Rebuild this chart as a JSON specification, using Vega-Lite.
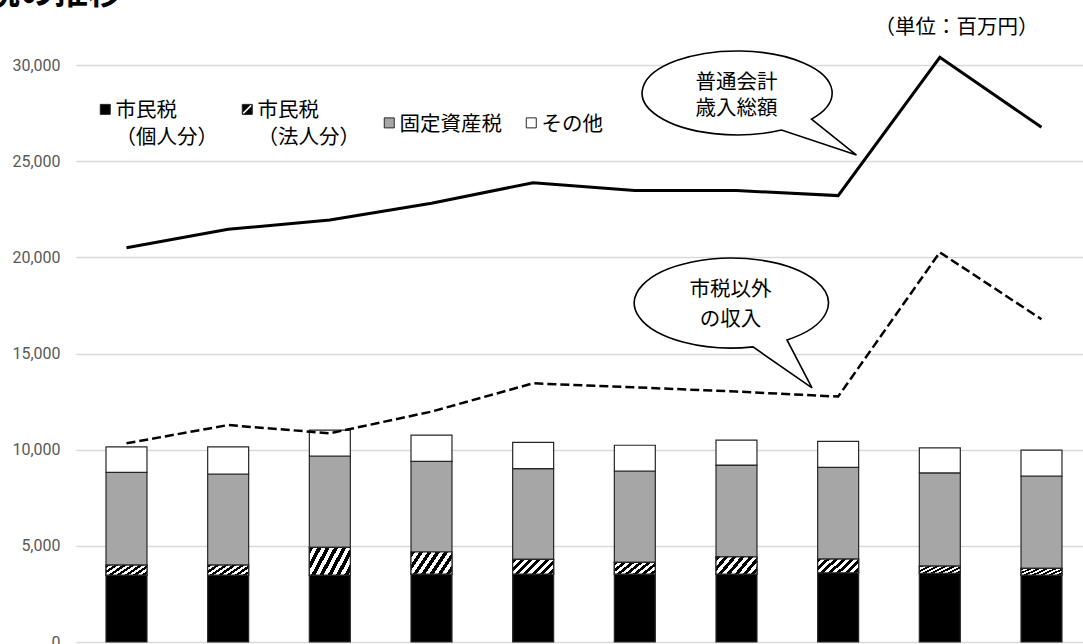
{
  "$schema": "https://vega.github.io/schema/vega-lite/v6.json",
  "width": 1007,
  "height": 577,
  "autosize": {"type": "none"},
  "padding": {"left": 76, "top": 65, "right": 0, "bottom": 2},
  "background": "white",
  "config": {"view": {"stroke": null}, "font": "Noto Sans CJK JP"},
  "title": {
    "text": "市税の推移",
    "anchor": "start",
    "frame": "group",
    "fontSize": 34,
    "fontWeight": "bold",
    "color": "#000000",
    "font": "Noto Sans CJK JP",
    "offset": 0,
    "dx": -124,
    "dy": -7
  },
  "datasets": {
    "tax": [
      {"年度": "第1年", "区分": "市民税（個人分）", "順": 1, "金額": 3480},
      {"年度": "第1年", "区分": "市民税（法人分）", "順": 2, "金額": 520},
      {"年度": "第1年", "区分": "固定資産税", "順": 3, "金額": 4820},
      {"年度": "第1年", "区分": "その他", "順": 4, "金額": 1330},
      {"年度": "第2年", "区分": "市民税（個人分）", "順": 1, "金額": 3480},
      {"年度": "第2年", "区分": "市民税（法人分）", "順": 2, "金額": 520},
      {"年度": "第2年", "区分": "固定資産税", "順": 3, "金額": 4735},
      {"年度": "第2年", "区分": "その他", "順": 4, "金額": 1415},
      {"年度": "第3年", "区分": "市民税（個人分）", "順": 1, "金額": 3480},
      {"年度": "第3年", "区分": "市民税（法人分）", "順": 2, "金額": 1440},
      {"年度": "第3年", "区分": "固定資産税", "順": 3, "金額": 4750},
      {"年度": "第3年", "区分": "その他", "順": 4, "金額": 1350},
      {"年度": "第4年", "区分": "市民税（個人分）", "順": 1, "金額": 3530},
      {"年度": "第4年", "区分": "市民税（法人分）", "順": 2, "金額": 1150},
      {"年度": "第4年", "区分": "固定資産税", "順": 3, "金額": 4710},
      {"年度": "第4年", "区分": "その他", "順": 4, "金額": 1370},
      {"年度": "第5年", "区分": "市民税（個人分）", "順": 1, "金額": 3530},
      {"年度": "第5年", "区分": "市民税（法人分）", "順": 2, "金額": 770},
      {"年度": "第5年", "区分": "固定資産税", "順": 3, "金額": 4710},
      {"年度": "第5年", "区分": "その他", "順": 4, "金額": 1370},
      {"年度": "第6年", "区分": "市民税（個人分）", "順": 1, "金額": 3530},
      {"年度": "第6年", "区分": "市民税（法人分）", "順": 2, "金額": 610},
      {"年度": "第6年", "区分": "固定資産税", "順": 3, "金額": 4750},
      {"年度": "第6年", "区分": "その他", "順": 4, "金額": 1340},
      {"年度": "第7年", "区分": "市民税（個人分）", "順": 1, "金額": 3530},
      {"年度": "第7年", "区分": "市民税（法人分）", "順": 2, "金額": 900},
      {"年度": "第7年", "区分": "固定資産税", "順": 3, "金額": 4770},
      {"年度": "第7年", "区分": "その他", "順": 4, "金額": 1300},
      {"年度": "第8年", "区分": "市民税（個人分）", "順": 1, "金額": 3600},
      {"年度": "第8年", "区分": "市民税（法人分）", "順": 2, "金額": 710},
      {"年度": "第8年", "区分": "固定資産税", "順": 3, "金額": 4770},
      {"年度": "第8年", "区分": "その他", "順": 4, "金額": 1350},
      {"年度": "第9年", "区分": "市民税（個人分）", "順": 1, "金額": 3570},
      {"年度": "第9年", "区分": "市民税（法人分）", "順": 2, "金額": 380},
      {"年度": "第9年", "区分": "固定資産税", "順": 3, "金額": 4840},
      {"年度": "第9年", "区分": "その他", "順": 4, "金額": 1300},
      {"年度": "第10年", "区分": "市民税（個人分）", "順": 1, "金額": 3480},
      {"年度": "第10年", "区分": "市民税（法人分）", "順": 2, "金額": 350},
      {"年度": "第10年", "区分": "固定資産税", "順": 3, "金額": 4800},
      {"年度": "第10年", "区分": "その他", "順": 4, "金額": 1350}
    ],
    "revenue": [
      {"年度": "第1年", "歳入総額": 20500, "市税以外": 10330},
      {"年度": "第2年", "歳入総額": 21460, "市税以外": 11280},
      {"年度": "第3年", "歳入総額": 21940, "市税以外": 10850},
      {"年度": "第4年", "歳入総額": 22810, "市税以外": 11980},
      {"年度": "第5年", "歳入総額": 23880, "市税以外": 13450},
      {"年度": "第6年", "歳入総額": 23470, "市税以外": 13240},
      {"年度": "第7年", "歳入総額": 23470, "市税以外": 13020},
      {"年度": "第8年", "歳入総額": 23210, "市税以外": 12760},
      {"年度": "第9年", "歳入総額": 30400, "市税以外": 20260},
      {"年度": "第10年", "歳入総額": 26760, "市税以外": 16780}
    ]
  },
  "encoding": {
    "x": {
      "field": "年度",
      "type": "nominal",
      "axis": null,
      "scale": {
        "domain": ["第1年", "第2年", "第3年", "第4年", "第5年", "第6年", "第7年", "第8年", "第9年", "第10年"],
        "paddingInner": 0.597,
        "paddingOuter": 0.251,
        "align": 0.588,
        "round": false
      }
    }
  },
  "layer": [
    {
      "data": {"name": "tax"},
      "transform": [
        {"stack": "金額", "groupby": ["年度"], "sort": [{"field": "順", "order": "ascending"}], "as": ["下端", "上端"]}
      ],
      "layer": [
        {
          "mark": {"type": "point", "filled": true, "size": 100, "yOffset": -6, "stroke": "#262626", "strokeWidth": 1, "opacity": 1},
          "encoding": {
            "y": {
              "field": "下端",
              "type": "quantitative",
              "title": null,
              "scale": {"domain": [0, 30000], "nice": false, "zero": true},
              "axis": {
                "title": null,
                "values": [0, 5000, 10000, 15000, 20000, 25000, 30000],
                "format": ",",
                "labelExpr": "format(datum.value, ',')",
                "labelColor": "#595959",
                "labelFontSize": 16,
                "labelFont": "Roboto",
                "labelPadding": 16,
                "domain": false,
                "ticks": false,
                "grid": true,
                "gridColor": "#d9d9d9",
                "gridWidth": 1.3
              }
            },
            "fill": {
              "field": "区分",
              "type": "nominal",
              "scale": {
                "domain": ["市民税（個人分）", "市民税（法人分）", "固定資産税", "その他"],
                "range": ["#000000", "#000000", "#a6a6a6", "#ffffff"]
              },
              "legend": {
                "title": null,
                "orient": "none",
                "legendX": 19,
                "legendY": 34,
                "direction": "horizontal",
                "columns": 4,
                "gridAlign": "all",
                "padding": 0,
                "symbolSize": 100,
                "symbolStrokeColor": "#262626",
                "symbolStrokeWidth": 1,
                "symbolOpacity": 1,
                "labelFont": "Noto Sans CJK JP",
                "labelFontSize": 20.5,
                "labelColor": "#000000",
                "labelOffset": 0,
                "labelLimit": 0,
                "labelBaseline": "top",
                "columnPadding": 19,
                "labelExpr": "datum.label == '市民税（個人分）' ? ['市民税', '（個人分）'] : datum.label == '市民税（法人分）' ? ['市民税', '（法人分）'] : datum.label",
                "encode": {
                  "labels": {"update": {"lineHeight": {"value": 27}, "dy": {"value": -8}}}
                }
              }
            },
            "shape": {
              "field": "区分",
              "type": "nominal",
              "scale": {
                "domain": ["市民税（個人分）", "市民税（法人分）", "固定資産税", "その他"],
                "range": ["square", "M-1,-1H1V1H-1Z M-1,0.7L-0.7,1L1,-0.7L0.7,-1Z", "square", "square"]
              },
              "legend": {
                "title": null,
                "orient": "none",
                "legendX": 19,
                "legendY": 34,
                "direction": "horizontal",
                "columns": 4,
                "gridAlign": "all",
                "padding": 0,
                "symbolSize": 100,
                "symbolStrokeColor": "#262626",
                "symbolStrokeWidth": 1,
                "symbolOpacity": 1,
                "labelFont": "Noto Sans CJK JP",
                "labelFontSize": 20.5,
                "labelColor": "#000000",
                "labelOffset": 0,
                "labelLimit": 0,
                "labelBaseline": "top",
                "columnPadding": 19,
                "labelExpr": "datum.label == '市民税（個人分）' ? ['市民税', '（個人分）'] : datum.label == '市民税（法人分）' ? ['市民税', '（法人分）'] : datum.label",
                "encode": {
                  "labels": {"update": {"lineHeight": {"value": 27}, "dy": {"value": -8}}}
                }
              }
            }
          }
        },
        {
          "mark": {"type": "bar", "stroke": "#262626", "strokeWidth": 1.2},
          "encoding": {
            "y": {"field": "下端", "type": "quantitative", "title": null},
            "y2": {"field": "上端"},
            "fill": {"field": "区分", "type": "nominal", "legend": null}
          }
        },
        {
          "transform": [{"filter": "datum['区分'] === '市民税（法人分）'"}],
          "mark": {
            "type": "bar",
            "stroke": "#262626",
            "strokeWidth": 1.2,
            "fill": {
              "gradient": "linear",
              "x1": 0, "y1": 0, "x2": 1.25, "y2": 0.45,
              "stops": [
                {"offset": 0, "color": "#000000"}, {"offset": 0.0714, "color": "#000000"},
                {"offset": 0.0714, "color": "#ffffff"}, {"offset": 0.1429, "color": "#ffffff"},
                {"offset": 0.1429, "color": "#000000"}, {"offset": 0.2143, "color": "#000000"},
                {"offset": 0.2143, "color": "#ffffff"}, {"offset": 0.2857, "color": "#ffffff"},
                {"offset": 0.2857, "color": "#000000"}, {"offset": 0.3571, "color": "#000000"},
                {"offset": 0.3571, "color": "#ffffff"}, {"offset": 0.4286, "color": "#ffffff"},
                {"offset": 0.4286, "color": "#000000"}, {"offset": 0.5, "color": "#000000"},
                {"offset": 0.5, "color": "#ffffff"}, {"offset": 0.5714, "color": "#ffffff"},
                {"offset": 0.5714, "color": "#000000"}, {"offset": 0.6429, "color": "#000000"},
                {"offset": 0.6429, "color": "#ffffff"}, {"offset": 0.7143, "color": "#ffffff"},
                {"offset": 0.7143, "color": "#000000"}, {"offset": 0.7857, "color": "#000000"},
                {"offset": 0.7857, "color": "#ffffff"}, {"offset": 0.8571, "color": "#ffffff"},
                {"offset": 0.8571, "color": "#000000"}, {"offset": 0.9286, "color": "#000000"},
                {"offset": 0.9286, "color": "#ffffff"}, {"offset": 1, "color": "#ffffff"}
              ]
            }
          },
          "encoding": {
            "y": {"field": "下端", "type": "quantitative", "title": null},
            "y2": {"field": "上端"}
          }
        }
      ]
    },
    {
      "data": {"name": "revenue"},
      "mark": {"type": "line", "color": "#000000", "strokeWidth": 3},
      "encoding": {
        "y": {"field": "歳入総額", "type": "quantitative", "title": null}
      }
    },
    {
      "data": {"name": "revenue"},
      "mark": {"type": "line", "color": "#000000", "strokeWidth": 2.5, "strokeDash": [9, 4]},
      "encoding": {
        "y": {"field": "市税以外", "type": "quantitative", "title": null}
      }
    },
    {
      "data": {"values": [{"吹き出し": "普通会計歳入総額"}]},
      "mark": {
        "type": "point",
        "shape": "M 0.45 0.37 A 0.95 0.42 0 1 1 0.75 0.26 L 1.2 0.62 Z",
        "size": 40000,
        "filled": true,
        "fill": "#ffffff",
        "fillOpacity": 1,
        "opacity": 1,
        "stroke": "#000000",
        "strokeWidth": 1.6,
        "strokeOpacity": 1
      },
      "encoding": {
        "x": {"datum": "第7年", "type": "nominal"},
        "y": {"datum": 28540, "type": "quantitative", "title": null}
      }
    },
    {
      "data": {"values": [{"文字": "普通会計\n歳入総額"}]},
      "mark": {
        "type": "text",
        "lineBreak": "\n",
        "font": "Noto Sans CJK JP",
        "fontSize": 20.5,
        "lineHeight": 26,
        "align": "center",
        "baseline": "middle",
        "color": "#000000"
      },
      "encoding": {
        "x": {"datum": "第7年", "type": "nominal"},
        "y": {"datum": 29060, "type": "quantitative", "title": null},
        "text": {"field": "文字"}
      }
    },
    {
      "data": {"values": [{"吹き出し": "市税以外の収入"}]},
      "mark": {
        "type": "point",
        "shape": "M 0.165 0.44 A 0.97 0.45 0 1 1 0.505 0.37 L 0.755 0.85 Z",
        "size": 40000,
        "filled": true,
        "fill": "#ffffff",
        "fillOpacity": 1,
        "opacity": 1,
        "stroke": "#000000",
        "strokeWidth": 1.6,
        "strokeOpacity": 1
      },
      "encoding": {
        "x": {"datum": "第7年", "type": "nominal"},
        "y": {"datum": 17630, "type": "quantitative", "title": null}
      }
    },
    {
      "data": {"values": [{"文字": "市税以外\nの収入"}]},
      "mark": {
        "type": "text",
        "lineBreak": "\n",
        "font": "Noto Sans CJK JP",
        "fontSize": 20.5,
        "lineHeight": 30,
        "align": "center",
        "baseline": "middle",
        "dx": -6,
        "color": "#000000"
      },
      "encoding": {
        "x": {"datum": "第7年", "type": "nominal"},
        "y": {"datum": 18300, "type": "quantitative", "title": null},
        "text": {"field": "文字"}
      }
    },
    {
      "data": {"values": [{"文字": "（単位：百万円）"}]},
      "mark": {
        "type": "text",
        "font": "Noto Sans CJK JP",
        "fontSize": 20.5,
        "align": "right",
        "baseline": "middle",
        "dx": -3,
        "color": "#000000"
      },
      "encoding": {
        "x": {"datum": "第10年", "type": "nominal"},
        "y": {"datum": 31920, "type": "quantitative", "title": null},
        "text": {"field": "文字"}
      }
    }
  ]
}
